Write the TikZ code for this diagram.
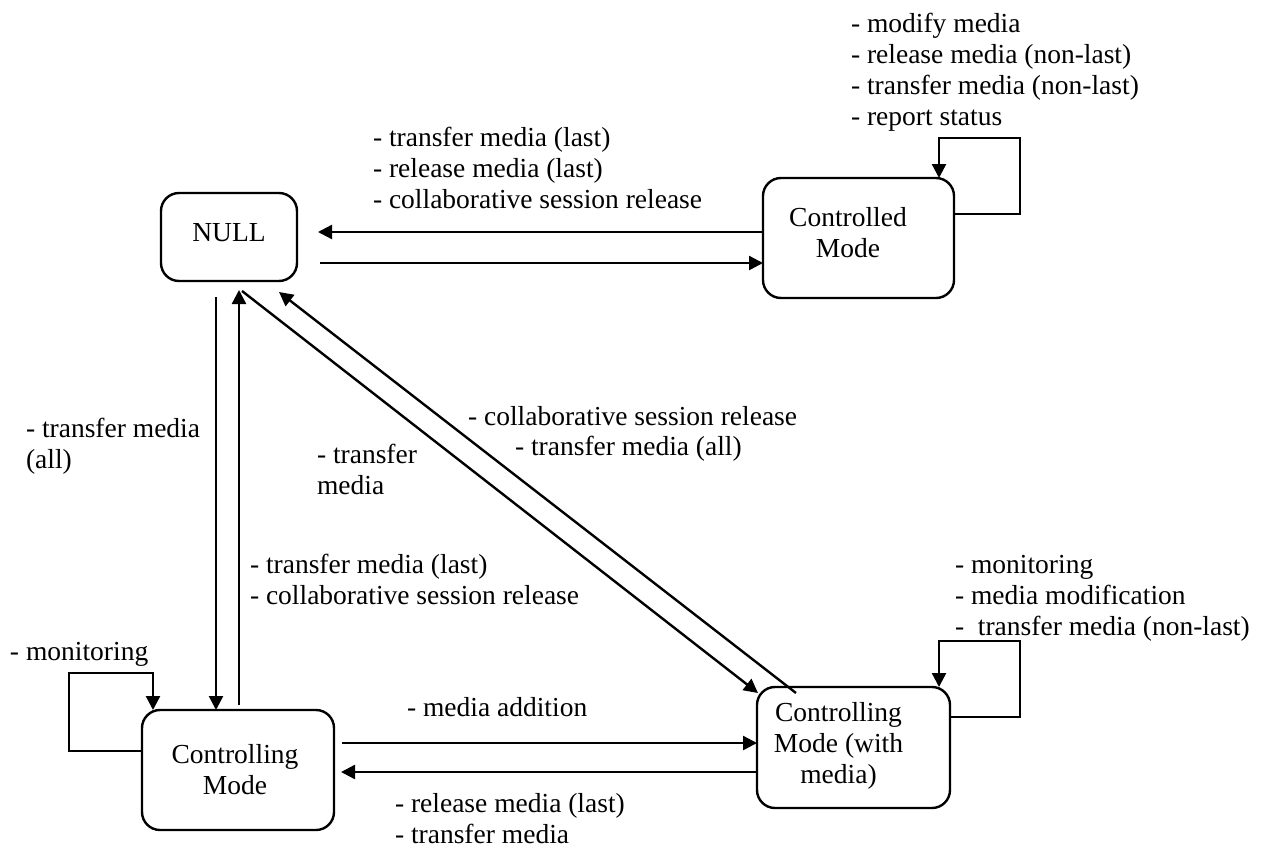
\documentclass[tikz,border=0pt]{standalone}
\usepackage{fontspec}
\setmainfont{Liberation Serif}
\usetikzlibrary{arrows.meta}
\begin{document}
\begin{tikzpicture}[x=0.5pt,y=-0.5pt,
  box/.style={draw, line width=1.2pt, rounded corners=9pt, inner sep=0pt, outer sep=0pt},
  lbl/.style={font=\fontsize{13.75pt}{15.5pt}\selectfont, inner sep=0pt, outer sep=0pt, anchor=base west, align=left},
  btxt/.style={font=\fontsize{13.75pt}{15.5pt}\selectfont, inner sep=0pt, outer sep=0pt, anchor=base, align=center},
  arr/.style={line width=1.2pt, -{Triangle[length=7pt,width=7pt]}}]
\useasboundingbox (0,0) rectangle (1262,851);
% boxes
\node[box, minimum width=68pt, minimum height=44pt] (null) at (229,237) {};
\node[box, minimum width=95.5pt, minimum height=60pt] (ctrl) at (858.5,238) {};
\node[box, minimum width=96pt, minimum height=60pt] (cing) at (238,770) {};
\node[box, minimum width=96.5pt, minimum height=60.5pt] (cwm) at (853.5,747.5) {};
% box texts (base = baseline of last line)
\node[btxt] (nullt) at (229,241) {NULL};
\node[btxt] (ctrlt) at (848,257) {Controlled\\Mode};
\node[btxt] (cingt) at (235,794) {Controlling\\Mode};
\node[btxt] (cwmt) at (838.5,783) {Controlling\\Mode (with\\media)};
% connectors
\draw[arr] (ctrl.west |- 0,232) -- ([xshift=10.5pt]null.east |- 0,232);
\draw[arr] ([xshift=11.5pt]null.east |- 0,263) -- (ctrl.west |- 0,263);
\draw[arr] ([yshift=-8pt]null.south -| 216,0) -- (cing.north -| 216,0);
\draw[arr] ([yshift=2.5pt]cing.north -| 239,0) -- ([yshift=-4.5pt]null.south -| 239,0);
\draw[arr] ([shift={(13,10)}]null.south) -- ([shift={(1,6)}]cwm.north west);
\draw[arr] ([shift={(39,6)}]cwm.north west) -- ([shift={(50,11)}]null.south);
\draw[arr] ([xshift=4pt]cing.east |- 0,743) -- (cwm.west |- 0,743);
\draw[arr] (cwm.west |- 0,772) -- ([xshift=3.5pt]cing.east |- 0,772);
\draw[arr] (ctrl.east |- 0,214) -| (1020,138) -| (ctrl.north -| 939,0);
\draw[arr] (cing.west |- 0,751) -| (69,673) -| (cing.north -| 153,0);
\draw[arr] (cwm.east |- 0,717) -| (1020,641) -| (cwm.north -| 939,0);
% labels (base = baseline of last line)
\node[lbl] (l1) at (851,125) {- modify media\\- release media (non-last)\\- transfer media (non-last)\\- report status};
\node[lbl] (l2) at (373,208) {- transfer media (last)\\- release media (last)\\- collaborative session release};
\node[lbl] (l3) at (26,468) {- transfer media\\(all)};
\node[lbl] (l4) at (317,494) {- transfer\\media};
\node[lbl] (l5a) at (468,425) {- collaborative session release};
\node[lbl] (l5b) at (515,455) {- transfer media (all)};
\node[lbl] (l6) at (250,604) {- transfer media (last)\\- collaborative session release};
\node[lbl] (l7) at (10,660) {- monitoring};
\node[lbl] (l8) at (955,635) {- monitoring\\- media modification\\-\ \ transfer media (non-last)};
\node[lbl] (l9) at (407,716) {- media addition};
\node[lbl] (l10) at (395,843) {- release media (last)\\- transfer media};
\end{tikzpicture}
\end{document}
